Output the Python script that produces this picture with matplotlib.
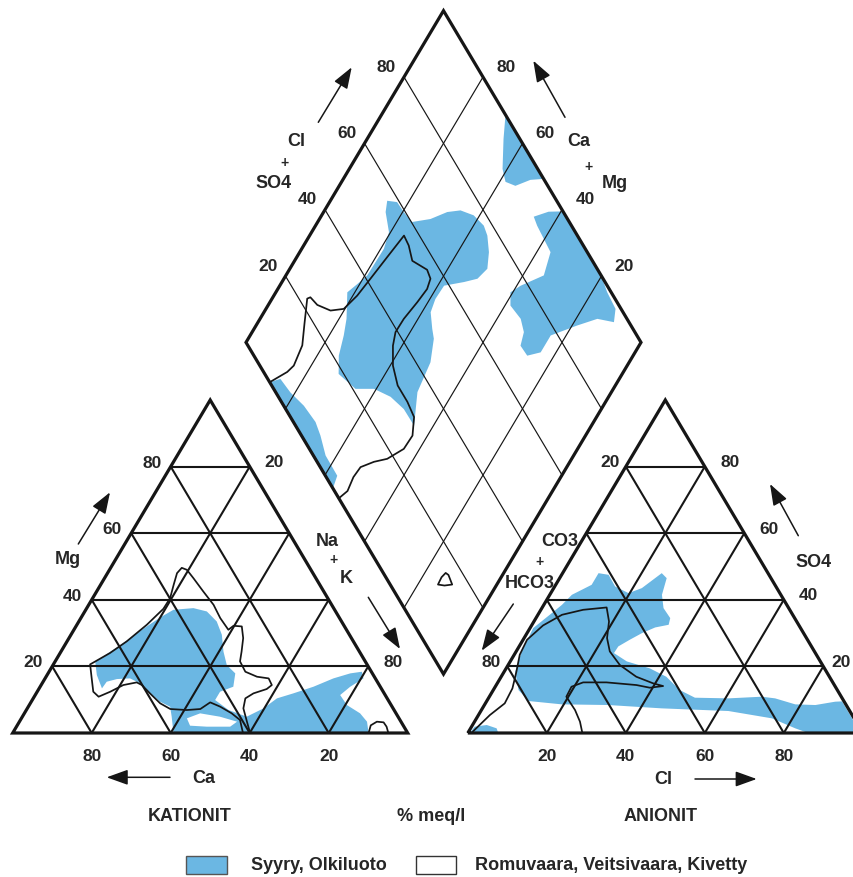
import numpy as np
import matplotlib
matplotlib.use("Agg")
import matplotlib.pyplot as plt
from matplotlib.patches import Polygon, Rectangle

plt.rcParams['font.family'] = ['Liberation Sans', 'DejaVu Sans']

# ---------------- data (% meq/l) ----------------
# Cation triangle: Ca and Mg (Na+K = 100 - Ca - Mg)
syyry_cat_ca = [68.4, 59.7, 51.3, 45.3, 40.8, 35.5, 32.6, 31.6, 32.3, 34.4, 35.6, 34.7, 37.2, 41.3,
                43.8, 41.9, 38.3, 32.8, 27.9, 23.0, 16.9, 10.6, 5.6, 2.4, 3.0, 7.6, 11.4, 11.2, 9.1,
                8.6, 9.9, 59.3, 57.3, 56.2, 58.0, 59.6, 60.3, 62.1, 65.5, 68.5, 70.7, 70.0]
syyry_cat_mg = [21.4, 26.3, 31.3, 34.7, 37.0, 37.5, 36.5, 33.5, 29.5, 24.5, 20.4, 17.9, 13.9, 12.4,
                9.9, 6.9, 4.9, 7.4, 10.4, 11.9, 13.9, 16.4, 17.9, 18.4, 16.4, 13.9, 11.4, 8.4, 5.9,
                3.4, 0.0, 0.0, 4.9, 7.9, 9.4, 12.9, 14.9, 16.4, 16.2, 15.4, 13.4, 17.4]
syyry_cat_gap_ca = [53.7, 49.6, 45.1, 41.5, 44.0, 49.9, 54.0]
syyry_cat_gap_mg = [4.4, 5.9, 4.9, 3.4, 1.9, 1.9, 2.2]

romu_cat_ca = [70.1, 63.4, 57.4, 49.8, 43.2, 39.9, 37.0, 34.4, 32.4, 31.4, 31.0, 30.5, 29.9, 30.2,
               29.9, 28.0, 26.0, 27.4, 29.8, 31.7, 31.9, 29.7, 27.0, 27.2, 29.1, 33.1, 35.9, 37.9,
               39.0, 39.9, 41.7, 40.5, 41.6, 43.5, 45.4, 48.9, 52.5, 56.5, 58.2, 59.3, 60.1, 61.0,
               64.8, 69.1, 72.8, 73.4, 71.8]
romu_cat_mg = [20.6, 24.0, 27.5, 32.5, 37.3, 40.5, 44.5, 48.0, 49.6, 49.0, 46.5, 42.5, 38.5, 34.5,
               31.0, 32.2, 32.0, 28.5, 24.5, 21.5, 18.4, 16.9, 16.4, 14.4, 13.2, 11.9, 10.4, 7.4,
               3.4, 0.0, 0.0, 3.9, 5.9, 7.9, 9.2, 7.2, 6.9, 7.2, 8.9, 11.9, 14.4, 15.2,
               14.4, 12.4, 10.9, 12.4, 16.4]
romu_cat_loop_ca = [9.9, 8.2, 6.1, 4.5, 4.4, 4.9]
romu_cat_loop_mg = [0.0, 2.3, 3.4, 3.2, 1.9, 0.0]

# Anion triangle: Cl and SO4 (CO3+HCO3 = 100 - Cl - SO4)
syyry_an_cl = [1.4, 0.8, 3.0, 4.6, 5.6, 9.1, 9.1, 11.9, 15.3, 19.7, 22.3, 25.1, 27.1, 28.4, 30.8,
               34.0, 34.6, 31.6, 29.1, 27.0, 25.1, 25.0, 29.5, 36.4, 41.8, 47.2, 52.2, 60.8, 69.0,
               72.6, 78.6, 83.8, 88.3, 90.0, 96.5, 99.5, 86.2, 82.2, 74.8, 62.7, 45.4, 31.4, 19.5,
               10.6, 6.4, 2.8]
syyry_an_so4 = [24.5, 31.5, 35.5, 38.5, 41.5, 44.5, 48.0, 47.5, 44.0, 42.0, 43.5, 48.0, 46.5, 41.5,
                37.5, 34.5, 32.5, 31.7, 30.0, 28.0, 26.0, 24.0, 21.5, 19.4, 16.9, 12.9, 10.6, 10.4,
                10.9, 10.4, 8.6, 8.4, 9.4, 9.5, 3.0, 0.0, 0.0, 1.4, 4.4, 6.6, 7.4, 8.4, 8.6,
                9.6, 12.9, 18.4]
syyry_an_corner_cl = [0.5, 0.8, 3.6, 6.6, 7.7]
syyry_an_corner_so4 = [0.0, 1.9, 2.4, 1.4, 0.0]

romu_an_cl = [0.9, 2.9, 4.9, 4.6, 3.1, 1.4, 1.0, 2.9, 6.1, 10.7, 16.3, 19.0, 21.0, 23.7, 28.3,
              34.2, 39.5, 42.4, 39.3, 35.5, 27.5, 21.6, 19.3, 19.5, 23.7, 26.7, 29.0]
romu_an_so4 = [0.0, 5.4, 8.9, 13.4, 18.4, 23.5, 28.0, 32.3, 35.5, 37.0, 37.7, 33.5, 28.5, 24.5,
               20.4, 16.9, 14.9, 14.1, 13.6, 14.4, 15.2, 15.2, 13.9, 10.9, 6.9, 3.4, 0.0]

# Diamond: Cl+SO4 and Na+K
syyry_dia_mid_clso4 = [57.1, 59.4, 59.6, 60.2, 65.3, 70.6, 74.2, 76.8, 77.8, 77.2, 75.1, 72.2, 68.2,
                       64.3, 58.7, 54.5, 51.3, 49.2, 48.1, 43.7, 35.9, 30.0, 29.9, 28.4, 25.4, 20.7,
                       18.7, 21.5, 25.8, 29.0, 33.2, 37.0, 40.8, 44.9, 49.0, 52.8, 55.0]
syyry_dia_mid_nak = [14.4, 17.1, 20.3, 23.9, 28.1, 31.3, 34.4, 38.5, 42.6, 45.0, 47.9, 50.0, 49.0,
                     46.1, 41.6, 41.4, 42.2, 45.1, 47.0, 49.7, 50.9, 55.1, 50.0, 44.8, 39.4, 34.7,
                     28.2, 25.5, 23.7, 21.9, 18.1, 19.4, 20.6, 20.7, 20.8, 19.6, 15.7]
syyry_dia_top_clso4 = [100, 95.9, 91.1, 89.9, 91.8, 96.5, 100]
syyry_dia_top_nak = [31.4, 34.5, 38.8, 41.5, 44.6, 47.5, 50.7]
syyry_dia_right_clso4 = [91.8, 96.3, 100, 100, 99.0, 98.6, 96.2, 92.5, 86.4, 78.2, 73.1, 69.2, 69.0,
                         71.9, 73.1, 72.5, 74.5, 78.1, 85.5, 90.7, 91.3]
syyry_dia_right_nak = [53.9, 56.9, 60.5, 79.8, 83.9, 88.5, 90.1, 85.4, 81.3, 76.1, 76.1, 73.2, 70.0,
                       68.8, 66.0, 61.4, 59.4, 61.0, 65.3, 63.5, 56.1]
syyry_dia_left_clso4 = [0, 3.2, 3.7, 5.1, 5.6, 4.8, 3.1, 3.0, 0]
syyry_dia_left_nak = [12, 14.2, 18.8, 24.2, 29.6, 32.9, 37.2, 43.2, 44]

romu_dia_clso4 = [56.1, 55.8, 54.4, 56.8, 56.3, 53.9, 49.4, 43.5, 39.4, 36.7, 33.7, 31.9, 31.9, 31.3,
                  28.1, 23.9, 18.2, 14.4, 10.2, 6.9, 3.3, 0.0, 0.0, 6.0, 8.6, 13.8, 17.6, 22.1,
                  23.1, 23.7, 26.2, 29.8, 35.2, 41.1, 48.7]
romu_dia_nak = [23.9, 26.6, 29.8, 34.9, 37.1, 37.8, 37.3, 36.4, 36.3, 37.7, 40.7, 44.9, 49.8, 53.8,
                56.2, 56.0, 53.3, 50.4, 47.8, 47.5, 48.1, 47.0, 12.0, 14.9, 15.6, 14.7, 12.0, 8.9,
                9.5, 12.4, 16.6, 19.7, 21.1, 21.9, 22.9]
romu_dia_small_clso4 = [12.1, 14.1, 15.8, 16.2, 15.7, 13.6]
romu_dia_small_nak = [85.1, 84.9, 85.3, 86.3, 88.7, 86.9]

grid_levels = [20, 40, 60, 80]

# ---------------- layout (canvas pixel units) ----------------
SIDE, TRI_H = 395.0, 333.0
BASE_Y = 734.0
CAT_X0 = 12.7
AN_X0 = 467.8
DIA_CX, DIA_CY, DIA_HW, DIA_HH = 443.5, 343.4, 197.5, 331.7

FILL = '#6bb7e3'
INK = '#161616'
TEXT = '#262626'


def cat_xy(ca, mg):
    ca = np.asarray(ca, float)
    mg = np.asarray(mg, float)
    x = CAT_X0 + SIDE * (100 - ca - mg / 2) / 100
    y = BASE_Y - TRI_H * mg / 100
    return np.column_stack([np.atleast_1d(x), np.atleast_1d(y)])


def an_xy(cl, so4):
    cl = np.asarray(cl, float)
    so4 = np.asarray(so4, float)
    x = AN_X0 + SIDE * (cl + so4 / 2) / 100
    y = BASE_Y - TRI_H * so4 / 100
    return np.column_stack([np.atleast_1d(x), np.atleast_1d(y)])


def dia_xy(clso4, nak):
    u = np.asarray(clso4, float) / 100
    v = np.asarray(nak, float) / 100
    x = DIA_CX - DIA_HW + DIA_HW * (u + v)
    y = DIA_CY + DIA_HH * (v - u)
    return np.column_stack([np.atleast_1d(x), np.atleast_1d(y)])


fig = plt.figure(figsize=(8.54, 8.78), dpi=100)
ax = fig.add_axes([0, 0, 1, 1])
ax.set_xlim(0, 854)
ax.set_ylim(878, 0)
ax.axis('off')


def area(pts, color, z=1):
    ax.add_patch(Polygon(pts, closed=True, facecolor=color, edgecolor='none', zorder=z))


def outline(pts):
    ax.add_patch(Polygon(pts, closed=True, facecolor='none', edgecolor=INK, lw=1.25,
                         joinstyle='round', zorder=3))


def seg(p, q, lw):
    ax.plot([p[0, 0], q[0, 0]], [p[0, 1], q[0, 1]], color=INK, lw=lw,
            solid_capstyle='butt', zorder=2)


# ---- filled fields (Syyry, Olkiluoto) ----
area(cat_xy(syyry_cat_ca, syyry_cat_mg), FILL)
area(cat_xy(syyry_cat_gap_ca, syyry_cat_gap_mg), 'white', 1.5)
area(an_xy(syyry_an_cl, syyry_an_so4), FILL)
area(an_xy(syyry_an_corner_cl, syyry_an_corner_so4), FILL)
area(dia_xy(syyry_dia_mid_clso4, syyry_dia_mid_nak), FILL)
area(dia_xy(syyry_dia_top_clso4, syyry_dia_top_nak), FILL)
area(dia_xy(syyry_dia_right_clso4, syyry_dia_right_nak), FILL)
area(dia_xy(syyry_dia_left_clso4, syyry_dia_left_nak), FILL)

# ---- grids ----
for p in grid_levels:
    q = 100 - p
    # cation triangle
    seg(cat_xy(q, p), cat_xy(0, p), 1.5)            # constant Mg
    seg(cat_xy(p, 0), cat_xy(p, q), 1.5)            # constant Ca
    seg(cat_xy(q, 0), cat_xy(0, q), 1.5)            # constant Na+K
    # anion triangle
    seg(an_xy(0, p), an_xy(q, p), 1.5)              # constant SO4
    seg(an_xy(p, 0), an_xy(p, q), 1.5)              # constant Cl
    seg(an_xy(0, q), an_xy(q, 0), 1.5)              # constant CO3+HCO3
    # diamond
    seg(dia_xy(p, 0), dia_xy(p, 100), 0.85)
    seg(dia_xy(0, p), dia_xy(100, p), 0.85)

# ---- outlined fields (Romuvaara, Veitsivaara, Kivetty) ----
outline(cat_xy(romu_cat_ca, romu_cat_mg))
outline(cat_xy(romu_cat_loop_ca, romu_cat_loop_mg))
outline(an_xy(romu_an_cl, romu_an_so4))
outline(dia_xy(romu_dia_clso4, romu_dia_nak))
outline(dia_xy(romu_dia_small_clso4, romu_dia_small_nak))

# ---- frames ----
for pts in (cat_xy([100, 0, 0], [0, 0, 100]),
            an_xy([0, 100, 0], [0, 0, 100]),
            dia_xy([0, 100, 100, 0], [0, 0, 100, 100])):
    ax.add_patch(Polygon(pts, closed=True, facecolor='none', edgecolor=INK, lw=2.3,
                         joinstyle='miter', zorder=4))

# ---- labels ----
NUM = dict(fontsize=12.5, fontweight='bold', color=TEXT, ha='center', va='center', zorder=5)
NAME = dict(fontsize=13, fontweight='bold', color=TEXT, ha='center', va='center', zorder=5)
PLUS = dict(fontsize=10, fontweight='bold', color=TEXT, ha='center', va='center', zorder=5)


def lab(pt, dx, dy, s, **kw):
    ax.text(pt[0, 0] + dx, pt[0, 1] + dy, s, **kw)


for p in grid_levels:
    s = str(p)
    lab(cat_xy(100 - p, p), -19, -4.5, s, **NUM)         # Mg
    lab(cat_xy(p, 0), 0, 22.5, s, **NUM)                 # Ca
    lab(an_xy(p, 0), 0, 22.5, s, **NUM)                  # Cl
    lab(an_xy(100 - p, p), 25 if p > 20 else 18, -5, s, **NUM)   # SO4
    lab(dia_xy(p, 0), -17.5, -11, s, **NUM)              # Cl+SO4
    lab(dia_xy(100, 100 - p), 23, -11, s, **NUM)         # Ca+Mg
for p in (20, 80):
    lab(cat_xy(0, 100 - p), 24.5, -5, str(p), **NUM)     # Na+K
    lab(an_xy(0, 100 - p), -16, -5, str(p), **NUM)       # CO3+HCO3

ax.text(68.3, 560, 'Mg', **NAME)
ax.text(327.5, 541.7, 'Na', **NAME)
ax.text(333.5, 560, '+', **PLUS)
ax.text(346.7, 578.8, 'K', **NAME)
ax.text(203.3, 778.3, 'Ca', **NAME)

ax.text(560, 541.7, 'CO3', **NAME)
ax.text(540, 561.7, '+', **PLUS)
ax.text(530, 583.3, 'HCO3', **NAME)
ax.text(813.3, 562.7, 'SO4', **NAME)
ax.text(663.3, 780, 'Cl', **NAME)

ax.text(296.7, 141.7, 'Cl', **NAME)
ax.text(285, 163.3, '+', **PLUS)
ax.text(273.3, 183.3, 'SO4', **NAME)
ax.text(578.3, 141.7, 'Ca', **NAME)
ax.text(588.3, 166.7, '+', **PLUS)
ax.text(615, 183.3, 'Mg', **NAME)

ax.text(190, 817, 'KATIONIT', **NAME)
ax.text(431, 817, '% meq/l', **NAME)
ax.text(661, 817, 'ANIONIT', **NAME)

# ---- direction arrows ----
ARROW = dict(arrowstyle='-|>,head_length=1.0,head_width=0.36', lw=1.1, color=INK,
             shrinkA=0, shrinkB=0, mutation_scale=13)
for tail, tip in [((170, 778.3), (106.7, 778.3)),     # Ca
                  ((78.3, 545), (110, 493.3)),        # Mg
                  ((368.3, 598.3), (400, 650)),       # Na+K
                  ((513.3, 605), (481.7, 651.7)),     # CO3+HCO3
                  ((798.3, 536.7), (770, 485)),       # SO4
                  ((695, 780), (756.7, 780)),         # Cl
                  ((318.3, 123.3), (351.7, 68.3)),    # Cl+SO4
                  ((565, 118.3), (533.3, 61.7))]:     # Ca+Mg
    ax.annotate('', xy=tip, xytext=tail, arrowprops=ARROW, zorder=5)

# ---- legend ----
ax.add_patch(Rectangle((186, 857), 41, 18, facecolor=FILL, edgecolor='#555555', lw=1.0, zorder=5))
ax.text(251, 866, 'Syyry, Olkiluoto', fontsize=13, fontweight='bold', color=TEXT,
        ha='left', va='center', zorder=5)
ax.add_patch(Rectangle((416, 857), 40, 18, facecolor='white', edgecolor='#333333', lw=1.0, zorder=5))
ax.text(475, 866, 'Romuvaara, Veitsivaara, Kivetty', fontsize=13, fontweight='bold', color=TEXT,
        ha='left', va='center', zorder=5)

fig.savefig('out.png', dpi=100)
